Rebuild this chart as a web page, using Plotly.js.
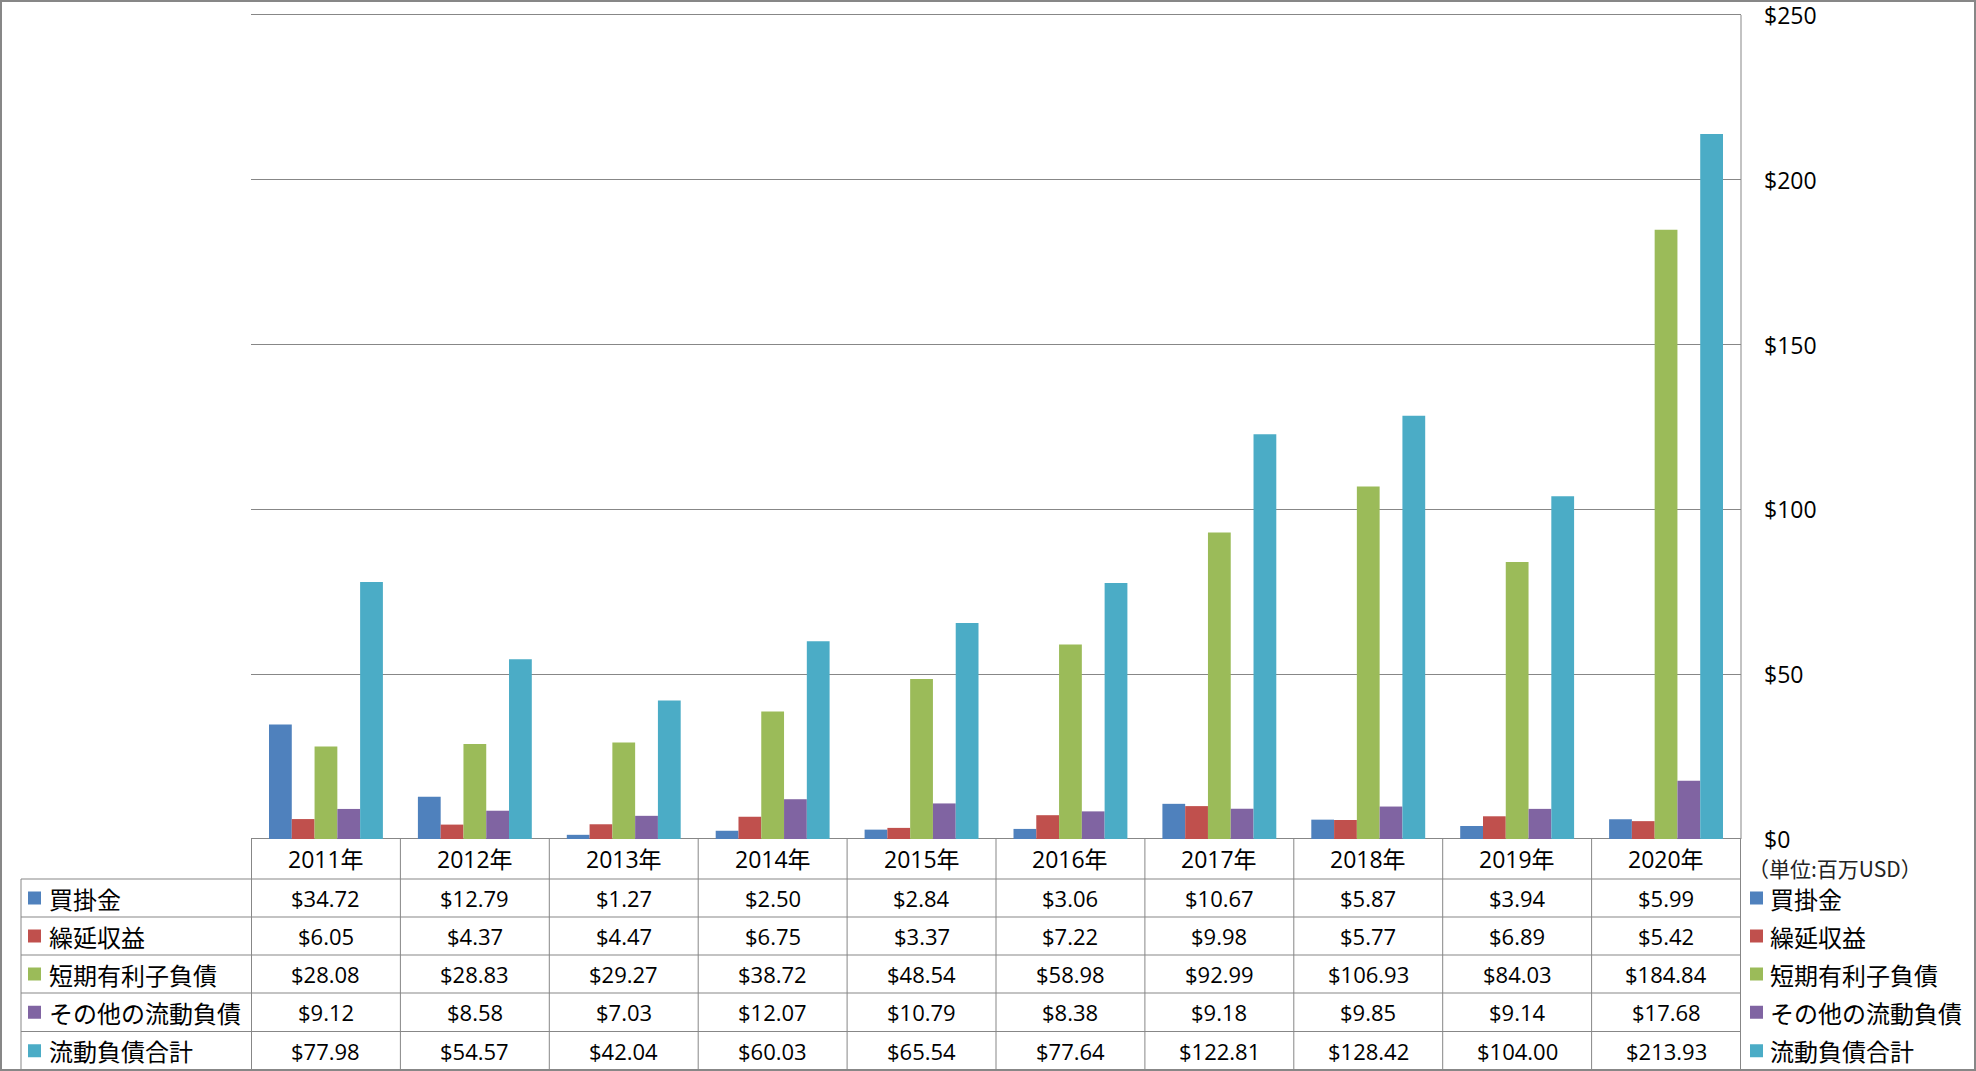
<!DOCTYPE html>
<html>
<head>
<meta charset="utf-8">
<script src="https://cdn.plot.ly/plotly-3.0.1.min.js"></script>
<style>
  html, body { margin: 0; padding: 0; background: #fff; }
  #chart { width: 1976px; height: 1071px; }
</style>
</head>
<body>
<div id="chart"></div>
<script>
// data (millions of USD)
const years = ['2011年', '2012年', '2013年', '2014年', '2015年', '2016年', '2017年', '2018年', '2019年', '2020年'];
const seriesNames = ['買掛金', '繰延収益', '短期有利子負債', 'その他の流動負債', '流動負債合計'];
const accountsPayable = [34.72, 12.79, 1.27, 2.50, 2.84, 3.06, 10.67, 5.87, 3.94, 5.99];
const deferredRevenue = [6.05, 4.37, 4.47, 6.75, 3.37, 7.22, 9.98, 5.77, 6.89, 5.42];
const shortTermDebt = [28.08, 28.83, 29.27, 38.72, 48.54, 58.98, 92.99, 106.93, 84.03, 184.84];
const otherCurrent = [9.12, 8.58, 7.03, 12.07, 10.79, 8.38, 9.18, 9.85, 9.14, 17.68];
const totalCurrent = [77.98, 54.57, 42.04, 60.03, 65.54, 77.64, 122.81, 128.42, 104.00, 213.93];
const seriesColors = ['#4F81BD', '#C0504D', '#9BBB59', '#8064A2', '#4BACC6'];
const yTicks = [0, 50, 100, 150, 200, 250];
const unitText = '（単位:百万USD）';

const allSeries = [accountsPayable, deferredRevenue, shortTermDebt, otherCurrent, totalCurrent];

// page is 1976 x 1071, margins are 0 so paper == pixels
const W = 1976, H = 1071;
const px = x => x / W;
const py = y => (H - y) / H;

const plotLeft = 251, plotRight = 1741, plotTop = 15, plotBottom = 839;
const rowLines = [879, 917, 955, 993, 1031.5, 1070];
const gridCol = '#878787';
const numFont = '"Open Sans", "Noto Sans CJK JP", sans-serif';
const jpFont = '"Noto Sans CJK JP", sans-serif';

// the axis runs a bit past 250 so the top gridline is not dropped at the edge
const yTop = yTicks[yTicks.length - 1];
const yMax = yTop + 2;
const unitPx = (plotBottom - plotTop) / yTop;
const domainTop = py(plotBottom - yMax * unitPx);

let traces = allSeries.map((vals, s) => ({
  type: 'bar',
  x: years,
  y: vals,
  name: seriesNames[s],
  marker: { color: seriesColors[s] },
  hoverinfo: 'skip'
}));

let shapes = [];
let annotations = [];

// outer frame
shapes.push({ type: 'rect', xref: 'paper', yref: 'paper', x0: px(1), x1: px(W - 1), y0: py(H - 1), y1: py(1),
  line: { color: gridCol, width: 2 } });

// right edge of the plot area, up to the top gridline
shapes.push({ type: 'line', xref: 'paper', yref: 'y', x0: px(plotRight), x1: px(plotRight), y0: 0, y1: yTop,
  line: { color: gridCol, width: 1 } });

// y tick labels on the right (as annotations so the top one is kept)
yTicks.forEach(t => {
  annotations.push({ x: px(1762), xref: 'paper', xanchor: 'left', y: t, yref: 'y', yanchor: 'middle',
    text: '$' + t, showarrow: false, font: { family: numFont, size: 23, color: '#000' } });
});

// table: vertical lines at the category edges
for (let i = 0; i <= years.length; i++) {
  shapes.push({ type: 'line', xref: 'x', yref: 'paper', x0: i - 0.5, x1: i - 0.5,
    y0: py(plotBottom), y1: py(rowLines[rowLines.length - 1]), line: { color: gridCol, width: 1 } });
}
// left label column edge
shapes.push({ type: 'line', xref: 'paper', yref: 'paper', x0: px(21), x1: px(21),
  y0: py(rowLines[0]), y1: py(rowLines[rowLines.length - 1]), line: { color: gridCol, width: 1 } });
// horizontal row lines
rowLines.forEach(r => {
  shapes.push({ type: 'line', xref: 'paper', yref: 'paper', x0: px(21), x1: px(plotRight),
    y0: py(r), y1: py(r), line: { color: gridCol, width: 1 } });
});

// year header
years.forEach(yr => {
  annotations.push({ x: yr, xref: 'x', xanchor: 'center', y: py((plotBottom + rowLines[0]) / 2), yref: 'paper',
    yanchor: 'middle', text: yr, showarrow: false, font: { family: numFont, size: 23, color: '#000' } });
});

// value cells, row labels and right legend
allSeries.forEach((vals, s) => {
  const yc = (rowLines[s] + rowLines[s + 1]) / 2;
  vals.forEach((v, i) => {
    annotations.push({ x: years[i], xref: 'x', xanchor: 'center', y: py(yc), yref: 'paper', yanchor: 'middle',
      text: '$' + v.toFixed(2), showarrow: false, font: { family: numFont, size: 22, color: '#000' } });
  });
  // left column
  shapes.push({ type: 'rect', xref: 'paper', yref: 'paper', x0: px(28), x1: px(41),
    y0: py(yc + 6.5), y1: py(yc - 6.5), fillcolor: seriesColors[s], line: { width: 0 } });
  annotations.push({ x: px(47), xref: 'paper', xanchor: 'left', y: py(yc), yref: 'paper', yanchor: 'middle',
    text: seriesNames[s], showarrow: false, font: { family: jpFont, size: 24, color: '#000' } });
  // right legend
  shapes.push({ type: 'rect', xref: 'paper', yref: 'paper', x0: px(1750), x1: px(1763),
    y0: py(yc + 6.5), y1: py(yc - 6.5), fillcolor: seriesColors[s], line: { width: 0 } });
  annotations.push({ x: px(1768), xref: 'paper', xanchor: 'left', y: py(yc), yref: 'paper', yanchor: 'middle',
    text: seriesNames[s], showarrow: false, font: { family: jpFont, size: 24, color: '#000' } });
});

// unit note under $0
annotations.push({ x: px(1746), xref: 'paper', xanchor: 'left', y: py(868), yref: 'paper', yanchor: 'middle',
  text: unitText, showarrow: false, font: { family: jpFont, size: 21, color: '#222' } });

const layout = {
  width: W,
  height: H,
  margin: { l: 0, r: 0, t: 0, b: 0, pad: 0 },
  paper_bgcolor: '#fff',
  plot_bgcolor: '#fff',
  showlegend: false,
  barmode: 'group',
  bargap: 0.235,
  bargroupgap: 0,
  xaxis: {
    type: 'category',
    domain: [px(plotLeft), px(plotRight)],
    showticklabels: false,
    ticks: '',
    showgrid: false,
    showline: false,
    zeroline: false
  },
  yaxis: {
    side: 'right',
    domain: [py(plotBottom), domainTop],
    range: [0, yMax],
    tickmode: 'array',
    tickvals: yTicks,
    showticklabels: false,
    ticks: '',
    showgrid: true,
    gridcolor: gridCol,
    gridwidth: 1,
    zeroline: true,
    zerolinecolor: gridCol,
    zerolinewidth: 1,
    showline: false
  },
  shapes: shapes,
  annotations: annotations
};

Plotly.newPlot('chart', traces, layout, { displayModeBar: false, staticPlot: true });
</script>
</body>
</html>
